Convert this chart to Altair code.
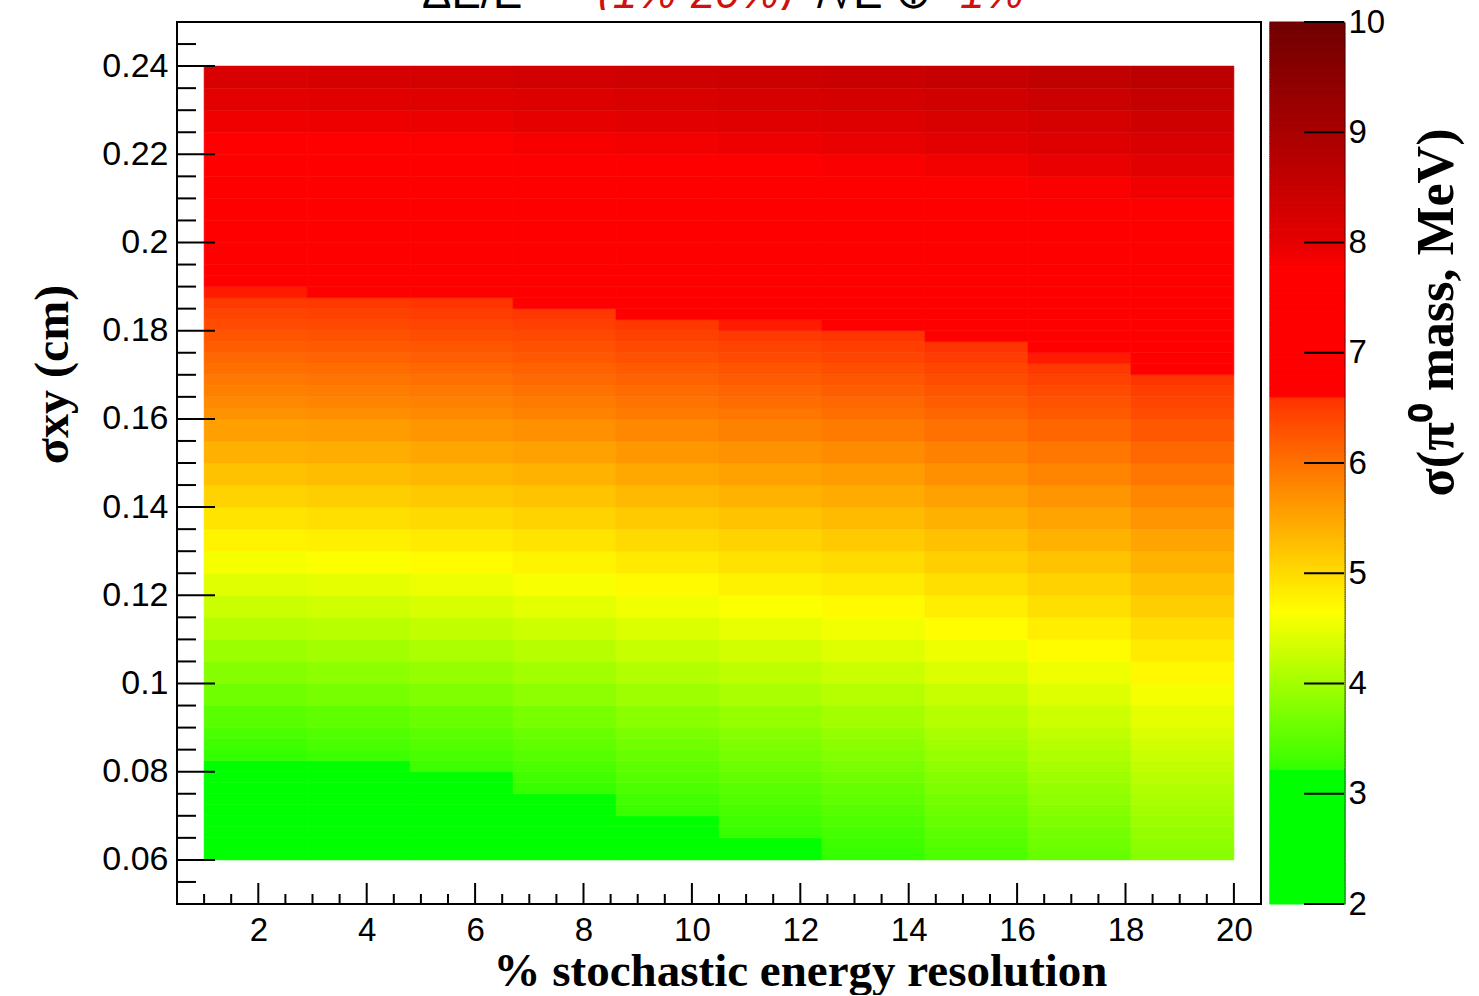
import altair as alt
import pandas as pd

# ---------------- data ----------------
# cell edges of the sampled surface (x: % stochastic term, y: sigma_xy in cm)
x_edges = [1.0, 2.9, 4.8, 6.7, 8.6, 10.5, 12.4, 14.3, 16.2, 18.1, 20.0]
y_edges = [0.06, 0.0625, 0.065, 0.0675, 0.07, 0.0725, 0.075, 0.0775, 0.08, 0.0825,
           0.085, 0.0875, 0.09,
           0.095, 0.10, 0.105, 0.11, 0.115, 0.12, 0.125, 0.13, 0.135, 0.14,
           0.145, 0.15, 0.155, 0.16,
           0.1625, 0.165, 0.1675, 0.17, 0.1725, 0.175, 0.1775, 0.18, 0.1825,
           0.185, 0.1875, 0.19, 0.1925, 0.195,
           0.20, 0.205, 0.21, 0.215, 0.22, 0.225, 0.23, 0.235, 0.24]

# sigma(pi0 mass) in MeV, rows from bottom (y=0.06) to top (y=0.24)
z_rows = [
    [2.57, 2.63, 2.73, 2.85, 3.01, 3.12, 3.23, 3.40, 3.58, 3.80],
    [2.64, 2.70, 2.79, 2.92, 3.07, 3.18, 3.29, 3.45, 3.63, 3.85],
    [2.71, 2.77, 2.86, 2.98, 3.13, 3.24, 3.34, 3.50, 3.68, 3.90],
    [2.78, 2.84, 2.93, 3.04, 3.19, 3.30, 3.40, 3.56, 3.74, 3.95],
    [2.85, 2.91, 2.99, 3.11, 3.25, 3.36, 3.46, 3.61, 3.79, 4.00],
    [2.92, 2.98, 3.06, 3.18, 3.31, 3.42, 3.52, 3.67, 3.85, 4.05],
    [3.00, 3.05, 3.13, 3.24, 3.38, 3.48, 3.58, 3.73, 3.90, 4.10],
    [3.07, 3.13, 3.20, 3.31, 3.45, 3.55, 3.64, 3.79, 3.96, 4.16],
    [3.14, 3.20, 3.28, 3.38, 3.51, 3.61, 3.71, 3.85, 4.02, 4.21],
    [3.22, 3.27, 3.35, 3.45, 3.58, 3.68, 3.77, 3.91, 4.08, 4.27],
    [3.29, 3.35, 3.42, 3.52, 3.65, 3.74, 3.83, 3.98, 4.14, 4.32],
    [3.37, 3.42, 3.49, 3.59, 3.72, 3.81, 3.90, 4.04, 4.20, 4.38],
    [3.48, 3.53, 3.60, 3.70, 3.82, 3.91, 4.00, 4.13, 4.29, 4.47],
    [3.64, 3.69, 3.75, 3.85, 3.96, 4.05, 4.13, 4.26, 4.41, 4.59],
    [3.79, 3.84, 3.90, 3.99, 4.10, 4.19, 4.27, 4.40, 4.54, 4.72],
    [3.95, 4.00, 4.06, 4.14, 4.25, 4.33, 4.41, 4.53, 4.68, 4.84],
    [4.11, 4.15, 4.21, 4.29, 4.40, 4.48, 4.55, 4.67, 4.81, 4.97],
    [4.27, 4.31, 4.37, 4.45, 4.55, 4.62, 4.70, 4.81, 4.95, 5.11],
    [4.43, 4.47, 4.52, 4.60, 4.70, 4.77, 4.84, 4.95, 5.08, 5.24],
    [4.59, 4.63, 4.68, 4.75, 4.85, 4.92, 4.99, 5.10, 5.22, 5.38],
    [4.75, 4.79, 4.84, 4.91, 5.00, 5.07, 5.14, 5.24, 5.37, 5.51],
    [4.91, 4.95, 5.00, 5.07, 5.15, 5.22, 5.29, 5.39, 5.51, 5.65],
    [5.07, 5.11, 5.16, 5.22, 5.31, 5.37, 5.44, 5.54, 5.65, 5.79],
    [5.23, 5.27, 5.32, 5.38, 5.46, 5.53, 5.59, 5.69, 5.80, 5.94],
    [5.40, 5.43, 5.48, 5.54, 5.62, 5.68, 5.74, 5.84, 5.95, 6.08],
    [5.56, 5.59, 5.64, 5.70, 5.78, 5.84, 5.90, 5.99, 6.10, 6.23],
    [5.68, 5.71, 5.76, 5.82, 5.90, 5.95, 6.01, 6.10, 6.21, 6.34],
    [5.77, 5.80, 5.84, 5.90, 5.97, 6.03, 6.09, 6.18, 6.28, 6.41],
    [5.85, 5.88, 5.92, 5.98, 6.05, 6.11, 6.17, 6.26, 6.36, 6.48],
    [5.93, 5.96, 6.00, 6.06, 6.13, 6.19, 6.25, 6.33, 6.44, 6.56],
    [6.01, 6.04, 6.08, 6.14, 6.21, 6.27, 6.32, 6.41, 6.51, 6.63],
    [6.09, 6.12, 6.16, 6.22, 6.29, 6.35, 6.40, 6.49, 6.59, 6.71],
    [6.18, 6.21, 6.25, 6.30, 6.37, 6.43, 6.48, 6.57, 6.66, 6.78],
    [6.26, 6.29, 6.33, 6.38, 6.45, 6.51, 6.56, 6.64, 6.74, 6.86],
    [6.34, 6.37, 6.41, 6.46, 6.53, 6.59, 6.64, 6.72, 6.82, 6.93],
    [6.42, 6.45, 6.49, 6.54, 6.61, 6.67, 6.72, 6.80, 6.89, 7.01],
    [6.51, 6.53, 6.57, 6.63, 6.69, 6.75, 6.80, 6.88, 6.97, 7.09],
    [6.59, 6.62, 6.65, 6.71, 6.77, 6.83, 6.88, 6.96, 7.05, 7.16],
    [6.67, 6.70, 6.74, 6.79, 6.85, 6.91, 6.96, 7.03, 7.13, 7.24],
    [6.76, 6.78, 6.82, 6.87, 6.94, 6.99, 7.04, 7.11, 7.20, 7.31],
    [6.88, 6.91, 6.94, 6.99, 7.06, 7.11, 7.15, 7.23, 7.32, 7.43],
    [7.05, 7.07, 7.11, 7.16, 7.22, 7.27, 7.31, 7.39, 7.48, 7.58],
    [7.21, 7.24, 7.27, 7.32, 7.38, 7.43, 7.47, 7.55, 7.63, 7.74],
    [7.38, 7.40, 7.44, 7.48, 7.54, 7.59, 7.64, 7.71, 7.79, 7.89],
    [7.55, 7.57, 7.60, 7.65, 7.71, 7.75, 7.80, 7.87, 7.95, 8.05],
    [7.71, 7.73, 7.77, 7.81, 7.87, 7.91, 7.96, 8.03, 8.11, 8.21],
    [7.88, 7.90, 7.93, 7.98, 8.03, 8.08, 8.12, 8.19, 8.27, 8.36],
    [8.05, 8.07, 8.10, 8.14, 8.20, 8.24, 8.28, 8.35, 8.43, 8.52],
    [8.21, 8.23, 8.27, 8.31, 8.36, 8.40, 8.44, 8.51, 8.59, 8.68],
]
assert len(z_rows) == len(y_edges) - 1

# axis ticks / labels
x_major = [2, 4, 6, 8, 10, 12, 14, 16, 18, 20]
x_minor = [k * 0.5 for k in range(2, 41) if k % 4 != 0]
y_major = [0.06, 0.08, 0.10, 0.12, 0.14, 0.16, 0.18, 0.20, 0.22, 0.24]
y_minor = [round(0.05 + 0.005 * k, 3) for k in range(1, 40) if k % 4 != 2]
cbar_ticks = [2, 3, 4, 5, 6, 7, 8, 9, 10]
cbar_levels = [round(2 + 0.02 * k, 2) for k in range(400)]

# palette (colour bar) stops
pal_domain = [2.0, 3.2, 3.21, 4.65, 6.58, 6.6, 7.75, 8.0, 9.0, 10.0]
pal_range = ["#00ff00", "#00ff00", "#33ff00", "#ffff00", "#ff3300",
             "#ff0000", "#ff0000", "#e50000", "#a80000", "#700000"]

title_parts = ["\u0394E/E = ", "(1%-20%)", "/\u221aE \u2295", "1%"]
title_colors = ["black", "#d01010", "black", "#d01010"]

# ---------------- tables ----------------
records = []
for i, row in enumerate(z_rows):
    for j, v in enumerate(row):
        records.append({"x": x_edges[j], "x2": x_edges[j + 1],
                        "y": y_edges[i], "y2": y_edges[i + 1], "z": v})
heat_df = pd.DataFrame(records)
cb_df = pd.DataFrame({"level": cbar_levels,
                      "level2": [round(v + 0.02, 2) for v in cbar_levels]})

cscale = alt.Scale(domain=pal_domain, range=pal_range, interpolate="rgb", clamp=True)
xscale = alt.Scale(domain=[0.5, 20.5], nice=False, zero=False)
yscale = alt.Scale(domain=[0.05, 0.25], nice=False, zero=False)
cbscale = alt.Scale(domain=[2, 10], nice=False, zero=False)

LABEL_FONT = "Liberation Sans"
TITLE_FONT = "Liberation Serif"

x_axis = alt.Axis(
    values=x_major, format="d", labelFontSize=33, labelFont=LABEL_FONT,
    labelColor="black", ticks=False, tickSize=0, domain=False, grid=False,
    labelPadding=10, labelFlush=False, labelOverlap=False,
    title="% stochastic energy resolution", titleFont=TITLE_FONT,
    titleFontWeight="bold", titleFontSize=47, titleColor="black",
    titleX=623, titleY=81, titleBaseline="alphabetic", titleAlign="center")
y_axis = alt.Axis(
    values=y_major, format=".2~f", labelFontSize=34, labelFont=LABEL_FONT,
    labelColor="black", ticks=False, tickSize=0, domain=False, grid=False,
    labelPadding=9, labelFlush=False, labelOverlap=False,
    title="\u03c3xy (cm)", titleFont=TITLE_FONT, titleFontWeight="bold",
    titleFontSize=48, titleColor="black", titleAngle=270,
    titleX=-110, titleY=352, titleBaseline="alphabetic", titleAlign="center")
cb_axis = alt.Axis(
    orient="right", values=cbar_ticks, format="d", labelFontSize=33,
    labelFont=LABEL_FONT, labelColor="black", ticks=False, tickSize=0,
    domain=True, domainColor="black", domainWidth=2, grid=False,
    labelPadding=4, labelFlush=False, labelOverlap=False,
    title="\u03c3(\u03c0\u2070 mass, MeV)", titleFont=TITLE_FONT,
    titleFontWeight="bold", titleFontSize=52, titleColor="black",
    titleAngle=270, titleX=108, titleY=290, titleBaseline="alphabetic",
    titleAlign="center")

heat = alt.Chart(heat_df).mark_rect(strokeWidth=0.6).encode(
    x=alt.X("x:Q", scale=xscale, axis=x_axis),
    x2="x2:Q",
    y=alt.Y("y:Q", scale=yscale, axis=y_axis),
    y2="y2:Q",
    color=alt.Color("z:Q", scale=cscale, legend=None),
    stroke=alt.Stroke("z:Q", scale=cscale, legend=None),
)

ymaj = alt.Chart(pd.DataFrame({"v": y_major})).mark_rule(color="black", strokeWidth=2).encode(
    y=alt.Y("v:Q", scale=yscale, axis=y_axis), x=alt.value(0), x2=alt.value(38))
ymin = alt.Chart(pd.DataFrame({"v": y_minor})).mark_rule(color="black", strokeWidth=2).encode(
    y=alt.Y("v:Q", scale=yscale, axis=y_axis), x=alt.value(0), x2=alt.value(19))
xmaj = alt.Chart(pd.DataFrame({"v": x_major})).mark_rule(color="black", strokeWidth=2).encode(
    x=alt.X("v:Q", scale=xscale, axis=x_axis), y=alt.value(882), y2=alt.value(861))
xmin = alt.Chart(pd.DataFrame({"v": x_minor})).mark_rule(color="black", strokeWidth=2).encode(
    x=alt.X("v:Q", scale=xscale, axis=x_axis), y=alt.value(882), y2=alt.value(872))

main = alt.layer(heat, ymaj, ymin, xmaj, xmin).properties(
    width=1084, height=882,
    view=alt.ViewBackground(stroke="black", strokeWidth=2))

cb_rect = alt.Chart(cb_df).mark_rect(strokeWidth=1.2).encode(
    x=alt.value(0), x2=alt.value(74),
    y=alt.Y("level:Q", scale=cbscale, axis=cb_axis),
    y2="level2:Q",
    color=alt.Color("level:Q", scale=cscale, legend=None),
    stroke=alt.Stroke("level:Q", scale=cscale, legend=None),
)
cb_tick = alt.Chart(pd.DataFrame({"v": cbar_ticks})).mark_rule(color="black", strokeWidth=2).encode(
    y=alt.Y("v:Q", scale=cbscale, axis=cb_axis), x=alt.value(34), x2=alt.value(74))
colorbar = alt.layer(cb_rect, cb_tick).properties(
    width=74, height=882, view=alt.ViewBackground(strokeOpacity=0))

# top title, cut off by the upper edge of the picture (as in the reference)
title_x = [245, 421, 640, 783]
title_layers = []
for part, col, px in zip(title_parts, title_colors, title_x):
    title_layers.append(
        alt.Chart(pd.DataFrame({"t": [part]})).mark_text(
            align="left", baseline="alphabetic", fontSize=44, font=LABEL_FONT,
            color=col, clip=True,
            fontStyle="italic" if col != "black" else "normal").encode(
            text="t:N", x=alt.value(px), y=alt.value(8)))
title_panel = alt.layer(*title_layers).properties(
    width=1084, height=10, view=alt.ViewBackground(strokeOpacity=0))

body = alt.hconcat(main, colorbar, spacing=9, bounds="flush").resolve_scale(
    x="independent", y="independent", color="independent", stroke="independent")

chart = alt.vconcat(title_panel, body, spacing=12, bounds="flush").properties(
    padding={"left": 28, "top": 0, "right": 5, "bottom": 0},
    background="white",
).configure(font=LABEL_FONT)

chart.save("out.html", embed_options={"renderer": "svg", "actions": False})
